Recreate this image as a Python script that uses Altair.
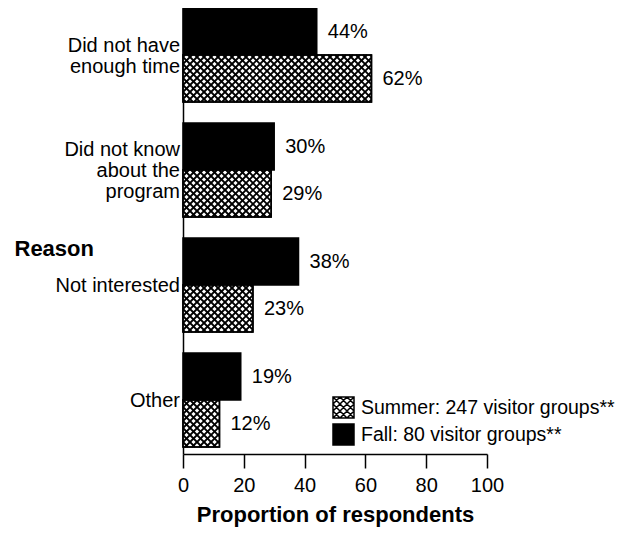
import altair as alt
import pandas as pd

# ---- data ----
reasons = ["Did not have\nenough time", "Did not know\nabout the\nprogram", "Not interested", "Other"]
summer = [62, 29, 23, 12]
fall = [44, 30, 38, 19]
summer_label = "Summer: 247 visitor groups**"
fall_label = "Fall: 80 visitor groups**"
x_ticks = [0, 20, 40, 60, 80, 100]

# ---- layout constants ----
W, H = 304, 446          # plot area in px
STEP, BAR = 115, 47      # group step and bar thickness (y units == px)
PX = W / 100.0           # px per x unit
P = 7                    # crosshatch period (px)
LH = 21                  # category label line height
FONT = "Liberation Sans"

rows = []
for i, r in enumerate(reasons):
    rows.append({"reason": r, "i": i, "series": fall_label, "order": 0, "value": fall[i]})
    rows.append({"reason": r, "i": i, "series": summer_label, "order": 1, "value": summer[i]})
df = pd.DataFrame(rows)

xscale = alt.Scale(domain=[0, 100], nice=False, zero=True)
yscale = alt.Scale(domain=[0, H], reverse=True, nice=False, zero=False)

xaxis = alt.Axis(values=x_ticks, title="Proportion of respondents", grid=False,
                 tickSize=14, tickWidth=1.5, tickColor="black", domainColor="black",
                 domainWidth=1.5, labelFontSize=20, labelColor="black", labelFont=FONT,
                 labelPadding=7, titleFont=FONT, titleFontSize=22, titleFontWeight="bold",
                 titleColor="black", titlePadding=9, labelFlush=False)
yaxis = alt.Axis(labels=False, ticks=False, grid=False, domainColor="black", domainWidth=1.5,
                 title="Reason", titleAngle=0, titleAlign="left", titleBaseline="middle",
                 titleX=-169, titleY=240, titleFont=FONT, titleFontSize=22,
                 titleFontWeight="bold", titleColor="black")

base = alt.Chart(df).transform_calculate(
    y0=f"{STEP}*datum.i + {BAR}*datum.order"
).transform_calculate(
    y1=f"datum.y0 + {BAR}"
).transform_calculate(
    ym=f"datum.y0 + {BAR}/2", zero="0"
)

hatch_path = ("M-1,-1H1V1H-1Z"
              "M-1,-1L1,1M-1,-0.333L0.333,1M-1,0.333L-0.333,1M-0.333,-1L1,0.333M0.333,-1L1,-0.333"
              "M-1,1L1,-1M-0.333,1L1,-0.333M0.333,1L1,0.333M-1,0.333L0.333,-1M-1,-0.333L-0.333,-1")

bars = base.mark_rect(stroke="black", strokeWidth=1.5).encode(
    x=alt.X("zero:Q", scale=xscale, axis=xaxis),
    x2="value:Q",
    y=alt.Y("y0:Q", scale=yscale, axis=yaxis),
    y2="y1:Q",
    fill=alt.Fill("series:N",
                  scale=alt.Scale(domain=[summer_label, fall_label], range=["white", "black"]),
                  legend=alt.Legend(title=None, orient="none", legendX=149, legendY=388,
                                    symbolType=hatch_path, symbolSize=441,
                                    symbolStrokeColor="black", symbolStrokeWidth=1.5,
                                    labelFont=FONT, labelFontSize=19.5, labelColor="black",
                                    labelOffset=6, rowPadding=0, padding=0, labelLimit=400)),
)


def hatch(family):
    c = base.transform_filter("datum.order == 1").transform_calculate(
        X1=f"datum.value*{PX}"
    )
    if family == "a":   # lines y = x + c
        c = c.transform_calculate(
            k=f"sequence(floor((datum.y0 - datum.X1)/{P}), ceil(datum.y1/{P}) + 1)")
        c = c.transform_flatten(["k"]).transform_calculate(cc=f"datum.k*{P}")
        c = c.transform_calculate(xs="max(0, datum.y0 - datum.cc)").transform_calculate(
            xe="min(datum.X1, datum.y1 - datum.cc)")
        c = c.transform_filter("datum.xe - datum.xs > 0.05")
        c = c.transform_calculate(ys="datum.xs + datum.cc").transform_calculate(
            ye="datum.xe + datum.cc")
    else:               # lines y = -x + c
        c = c.transform_calculate(
            k=f"sequence(floor(datum.y0/{P}), ceil((datum.y1 + datum.X1)/{P}) + 1)")
        c = c.transform_flatten(["k"]).transform_calculate(cc=f"datum.k*{P}")
        c = c.transform_calculate(xs="max(0, datum.cc - datum.y1)").transform_calculate(
            xe="min(datum.X1, datum.cc - datum.y0)")
        c = c.transform_filter("datum.xe - datum.xs > 0.05")
        c = c.transform_calculate(ys="datum.cc - datum.xs").transform_calculate(
            ye="datum.cc - datum.xe")
    c = c.transform_calculate(hx=f"datum.xs/{PX}").transform_calculate(hx2=f"datum.xe/{PX}")
    return c.mark_rule(color="black", strokeWidth=1.8).encode(
        x=alt.X("hx:Q", scale=xscale, axis=xaxis),
        x2="hx2:Q",
        y=alt.Y("ys:Q", scale=yscale, axis=yaxis),
        y2="ye:Q",
    )


outline = base.transform_filter("datum.order == 1").mark_rect(
    fill=None, stroke="black", strokeWidth=1.5).encode(
    x=alt.X("zero:Q", scale=xscale, axis=xaxis),
    x2="value:Q",
    y=alt.Y("y0:Q", scale=yscale, axis=yaxis),
    y2="y1:Q",
)

values = base.transform_calculate(lbl="datum.value + '%'").mark_text(
    align="left", baseline="middle", dx=11, fontSize=20, font=FONT, color="black"
).encode(
    x=alt.X("value:Q", scale=xscale, axis=xaxis),
    y=alt.Y("ym:Q", scale=yscale, axis=yaxis),
    text="lbl:N",
)

cats = base.transform_filter("datum.order == 0").transform_calculate(
    nl="length(split(datum.reason, '\\n'))"
).transform_calculate(
    gc=f"{STEP}*datum.i + {BAR} + 1 - (datum.nl - 1)*{LH}/2"
).mark_text(
    align="right", baseline="middle", dx=-3, fontSize=20, font=FONT, color="black",
    lineBreak="\n", lineHeight=LH
).encode(
    x=alt.value(0),
    y=alt.Y("gc:Q", scale=yscale, axis=yaxis),
    text="reason:N",
)

chart = alt.layer(bars, hatch("a"), hatch("b"), outline, values, cats).properties(
    width=W, height=H, autosize=alt.AutoSizeParams(type="none"),
    padding={"left": 175, "top": 0, "right": 138, "bottom": 76},
    background="white",
).configure_view(stroke=None)

chart.save("out.html", embed_options={"renderer": "svg", "actions": False})
